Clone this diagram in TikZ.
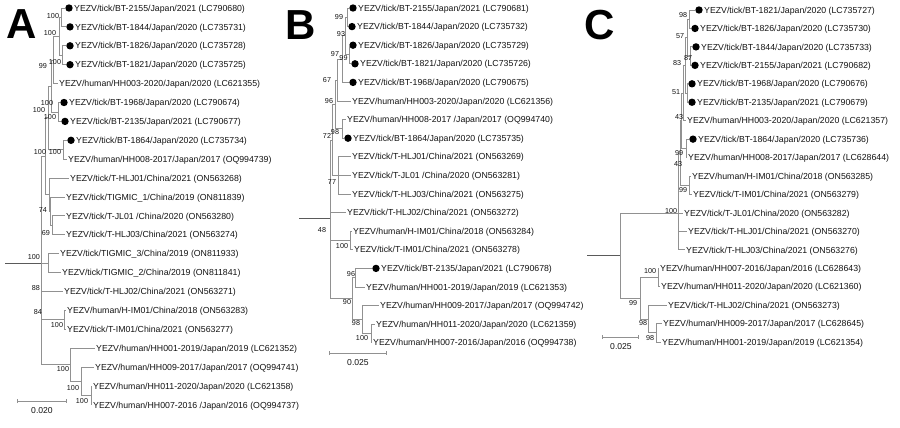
\documentclass[tikz,border=0pt]{standalone}
\usepackage{fontspec}
\setmainfont{Liberation Sans}
\usetikzlibrary{arrows.meta}
\definecolor{lnc}{RGB}{145,145,145}
\definecolor{rtc}{RGB}{90,90,90}
\definecolor{txc}{RGB}{20,20,20}
\newcommand\tleaf[4]{\node[lab] (#1) at ({#2-1.5},#3) {#4};}
\newcommand\dleaf[4]{\node[dotn] (#1d) at (#2,#3) {}; \node[lab] (#1) at ({#2+3.5},#3) {#4};}
\newcommand\bsv[4]{\node[bsl] (#1) at (#2,#3) {#4};}
\begin{document}
\begin{tikzpicture}[x=1pt,y=-1pt,
  br/.style={draw=lnc, line width=0.85pt},
  rootln/.style={draw=rtc, line width=0.9pt},
  lab/.style={anchor=west, inner xsep=1.5pt, inner ysep=0pt, text height=6.3pt, text depth=0pt, font=\fontsize{8.75}{10}\selectfont, text=txc},
  dotn/.style={circle, fill=black, inner sep=0pt, minimum size=7.4pt},
  bsl/.style={inner sep=0pt, font=\fontsize{7.2}{8}\selectfont, text=txc},
  sbar/.style={draw=lnc, line width=0.85pt, {Bar[width=4pt]}-{Bar[width=4pt]}},
  sblab/.style={inner sep=0pt, font=\fontsize{8.6}{9}\selectfont, text=txc},
  panel/.style={inner sep=0pt, font=\fontsize{42}{42}\selectfont\bfseries, text=black}]
\useasboundingbox (0,0) rectangle (900,428);
\fill[white] (0,0) rectangle (900,428);

% ---------------- Panel letters
\node[panel] (PA) at (22,24) {A};
\node[panel] (PB) at (301,25) {B};
\node[panel] (PC) at (600,25) {C};

% ================= Panel A =================
\dleaf{a1}{69}{8.0}{YEZV/tick/BT-2155/Japan/2021 (LC790680)}
\dleaf{a2}{70}{26.9}{YEZV/tick/BT-1844/Japan/2020 (LC735731)}
\dleaf{a3}{70}{45.8}{YEZV/tick/BT-1826/Japan/2020 (LC735728)}
\dleaf{a4}{70}{64.7}{YEZV/tick/BT-1821/Japan/2020 (LC735725)}
\tleaf{a5}{59}{83.6}{YEZV/human/HH003-2020/Japan/2020 (LC621355)}
\dleaf{a6}{64}{102.5}{YEZV/tick/BT-1968/Japan/2020 (LC790674)}
\dleaf{a7}{65}{121.4}{YEZV/tick/BT-2135/Japan/2021 (LC790677)}
\dleaf{a8}{71}{140.3}{YEZV/tick/BT-1864/Japan/2020 (LC735734)}
\tleaf{a9}{68}{159.2}{YEZV/human/HH008-2017/Japan/2017 (OQ994739)}
\tleaf{a10}{70}{178.1}{YEZV/tick/T-HLJ01/China/2021 (ON563268)}
\tleaf{a11}{66}{197.0}{YEZV/tick/TIGMIC\_1/China/2019 (ON811839)}
\tleaf{a12}{66}{215.9}{YEZV/tick/T-JL01 /China/2020 (ON563280)}
\tleaf{a13}{66}{234.8}{YEZV/tick/T-HLJ03/China/2021 (ON563274)}
\tleaf{a14}{60}{253.7}{YEZV/tick/TIGMIC\_3/China/2019 (ON811933)}
\tleaf{a15}{62}{272.6}{YEZV/tick/TIGMIC\_2/China/2019 (ON811841)}
\tleaf{a16}{64}{291.5}{YEZV/tick/T-HLJ02/China/2021 (ON563271)}
\tleaf{a17}{67}{310.4}{YEZV/human/H-IM01/China/2018 (ON563283)}
\tleaf{a18}{67}{329.3}{YEZV/tick/T-IM01/China/2021 (ON563277)}
\tleaf{a19}{96}{348.2}{YEZV/human/HH001-2019/Japan/2019 (LC621352)}
\tleaf{a20}{95}{367.1}{YEZV/human/HH009-2017/Japan/2017 (OQ994741)}
\tleaf{a21}{93}{386.0}{YEZV/human/HH011-2020/Japan/2020 (LC621358)}
\tleaf{a22}{93}{404.9}{YEZV/human/HH007-2016 /Japan/2016 (OQ994737)}

\coordinate (AN1) at (61,17.45);
\coordinate (AN2) at (62,55.25);
\coordinate (AN3) at (59,36.35);
\coordinate (AN4) at (53,59.98);
\coordinate (AN5) at (58,111.95);
\coordinate (AN6) at (51,85.96);
\coordinate (AN89) at (63,149.75);
\coordinate (ANJ) at (48,117.86);
\coordinate (ANC1) at (52,225.35);
\coordinate (ANC2) at (50.5,211.2);
\coordinate (ANC3) at (49.5,194.6);
\coordinate (ANU) at (45,156.2);
\coordinate (ANT) at (48,263.15);
\coordinate (ANIM) at (64,319.85);
\coordinate (ANH3) at (91,395.45);
\coordinate (ANH2) at (81,381.3);
\coordinate (ANH) at (70,364.75);
\coordinate (AR) at (41,263.15);
\coordinate (AR0) at (5,263.15);

\draw[br] (AN1) |- (a1d.west);  \draw[br] (AN1) |- (a2d.west);
\draw[br] (AN2) |- (a3d.west);  \draw[br] (AN2) |- (a4d.west);
\draw[br] (AN3) |- (AN1);       \draw[br] (AN3) |- (AN2);
\draw[br] (AN4) |- (AN3);       \draw[br] (AN4) |- (a5.west);
\draw[br] (AN5) |- (a6d.west);  \draw[br] (AN5) |- (a7d.west);
\draw[br] (AN6) |- (AN4);       \draw[br] (AN6) |- (AN5);
\draw[br] (AN89) |- (a8d.west); \draw[br] (AN89) |- (a9.west);
\draw[br] (ANJ) |- (AN6);       \draw[br] (ANJ) |- (AN89);
\draw[br] (ANC1) |- (a12.west); \draw[br] (ANC1) |- (a13.west);
\draw[br] (ANC2) |- (a11.west); \draw[br] (ANC2) |- (ANC1);
\draw[br] (ANC3) |- (a10.west); \draw[br] (ANC3) |- (ANC2);
\draw[br] (ANU) |- (ANJ);       \draw[br] (ANU) |- (ANC3);
\draw[br] (ANT) |- (a14.west);  \draw[br] (ANT) |- (a15.west);
\draw[br] (ANIM) |- (a17.west); \draw[br] (ANIM) |- (a18.west);
\draw[br] (ANH3) |- (a21.west); \draw[br] (ANH3) |- (a22.west);
\draw[br] (ANH2) |- (a20.west); \draw[br] (ANH2) |- (ANH3);
\draw[br] (ANH) |- (a19.west);  \draw[br] (ANH) |- (ANH2);
\draw[br] (AR) |- (ANU);  \draw[br] (AR) |- (ANT); \draw[br] (AR) |- (a16.west);
\draw[br] (AR) |- (ANIM); \draw[br] (AR) |- (ANH);
\draw[rootln] (AR0) -- (AR);

\bsv{ab1}{53}{16}{100}
\bsv{ab2}{50}{33}{100}
\bsv{ab3}{55}{62}{100}
\bsv{ab4}{43}{66}{99}
\bsv{ab5}{47}{103}{100}
\bsv{ab6}{39}{110}{100}
\bsv{ab7}{50}{117}{100}
\bsv{ab8}{40}{152}{100}
\bsv{ab9}{55}{152}{100}
\bsv{ab10}{43}{210}{74}
\bsv{ab11}{46}{233}{69}
\bsv{ab12}{34}{257}{100}
\bsv{ab13}{36}{288}{88}
\bsv{ab14}{38}{312}{84}
\bsv{ab15}{57}{325}{100}
\bsv{ab16}{63}{369}{100}
\bsv{ab17}{73}{388}{100}
\bsv{ab18}{82}{401}{100}

\coordinate (sA1) at (17,401);
\coordinate (sA2) at (67,401);
\draw[sbar] (sA1) -- (sA2);
\node[sblab] (sAl) at (42,411) {0.020};

% ================= Panel B =================
\dleaf{b1}{353}{8.0}{YEZV/tick/BT-2155/Japan/2021 (LC790681)}
\dleaf{b2}{352}{26.6}{YEZV/tick/BT-1844/Japan/2020 (LC735732)}
\dleaf{b3}{353}{45.2}{YEZV/tick/BT-1826/Japan/2020 (LC735729)}
\dleaf{b4}{355}{63.8}{YEZV/tick/BT-1821/Japan/2020 (LC735726)}
\dleaf{b5}{353}{82.4}{YEZV/tick/BT-1968/Japan/2020 (LC790675)}
\tleaf{b6}{352}{101.0}{YEZV/human/HH003-2020/Japan/2020 (LC621356)}
\tleaf{b7}{347}{119.6}{YEZV/human/HH008-2017 /Japan/2017 (OQ994740)}
\dleaf{b8}{348}{138.2}{YEZV/tick/BT-1864/Japan/2020 (LC735735)}
\tleaf{b9}{352}{156.8}{YEZV/tick/T-HLJ01/China/2021 (ON563269)}
\tleaf{b10}{352}{175.4}{YEZV/tick/T-JL01 /China/2020 (ON563281)}
\tleaf{b11}{352}{194.0}{YEZV/tick/T-HLJ03/China/2021 (ON563275)}
\tleaf{b12}{347}{212.6}{YEZV/tick/T-HLJ02/China/2021 (ON563272)}
\tleaf{b13}{353}{231.2}{YEZV/human/H-IM01/China/2018 (ON563284)}
\tleaf{b14}{354}{249.8}{YEZV/tick/T-IM01/China/2021 (ON563278)}
\dleaf{b15}{376}{268.4}{YEZV/tick/BT-2135/Japan/2021 (LC790678)}
\tleaf{b16}{366}{287.0}{YEZV/human/HH001-2019/Japan/2019 (LC621353)}
\tleaf{b17}{380}{305.6}{YEZV/human/HH009-2017/Japan/2017 (OQ994742)}
\tleaf{b18}{376}{324.2}{YEZV/human/HH011-2020/Japan/2020 (LC621359)}
\tleaf{b19}{373}{342.8}{YEZV/human/HH007-2016/Japan/2016 (OQ994738)}

\coordinate (BN12) at (347,17.3);
\coordinate (BN34) at (349.5,54.5);
\coordinate (BN1234) at (345,35.9);
\coordinate (BN15) at (342,59.15);
\coordinate (BN16) at (337,80.1);
\coordinate (BN78) at (342,128.9);
\coordinate (BNJ) at (335,104.5);
\coordinate (BNC) at (338,175.4);
\coordinate (BNU) at (332,140);
\coordinate (BN1314) at (350,240.5);
\coordinate (BN96) at (355,277.7);
\coordinate (BNH2) at (371,333.5);
\coordinate (BNH) at (362,319.55);
\coordinate (BNL) at (352,298.6);
\coordinate (BR) at (330,218);
\coordinate (BR0) at (299,218);

\draw[br] (BN12) |- (b1d.west);   \draw[br] (BN12) |- (b2d.west);
\draw[br] (BN34) |- (b3d.west);   \draw[br] (BN34) |- (b4d.west);
\draw[br] (BN1234) |- (BN12);     \draw[br] (BN1234) |- (BN34);
\draw[br] (BN15) |- (BN1234);     \draw[br] (BN15) |- (b5d.west);
\draw[br] (BN16) |- (BN15);       \draw[br] (BN16) |- (b6.west);
\draw[br] (BN78) |- (b7.west);    \draw[br] (BN78) |- (b8d.west);
\draw[br] (BNJ) |- (BN16);        \draw[br] (BNJ) |- (BN78);
\draw[br] (BNC) |- (b9.west); \draw[br] (BNC) |- (b10.west); \draw[br] (BNC) |- (b11.west);
\draw[br] (BNU) |- (BNJ);         \draw[br] (BNU) |- (BNC);
\draw[br] (BN1314) |- (b13.west); \draw[br] (BN1314) |- (b14.west);
\draw[br] (BN96) |- (b15d.west);  \draw[br] (BN96) |- (b16.west);
\draw[br] (BNH2) |- (b18.west);   \draw[br] (BNH2) |- (b19.west);
\draw[br] (BNH) |- (b17.west);    \draw[br] (BNH) |- (BNH2);
\draw[br] (BNL) |- (BN96);        \draw[br] (BNL) |- (BNH);
\draw[br] (BR) |- (BNU); \draw[br] (BR) |- (b12.west); \draw[br] (BR) |- (BN1314); \draw[br] (BR) |- (BNL);
\draw[rootln] (BR0) -- (BR);

\bsv{bb1}{339}{17}{99}
\bsv{bb2}{341}{34}{93}
\bsv{bb3}{335}{54}{97}
\bsv{bb4}{343.5}{58.5}{99}
\bsv{bb5}{327}{80}{67}
\bsv{bb6}{329}{101}{96}
\bsv{bb7}{335}{132}{98}
\bsv{bb8}{327}{136}{72}
\bsv{bb9}{332}{182}{77}
\bsv{bb10}{322}{230}{48}
\bsv{bb11}{342}{246}{100}
\bsv{bb12}{351}{274}{96}
\bsv{bb13}{347}{302}{90}
\bsv{bb14}{356}{323}{98}
\bsv{bb15}{362}{338}{100}

\coordinate (sB1) at (329,353);
\coordinate (sB2) at (387,353);
\draw[sbar] (sB1) -- (sB2);
\node[sblab] (sBl) at (358,363) {0.025};

% ================= Panel C =================
\dleaf{c1}{699}{10.0}{YEZV/tick/BT-1821/Japan/2020 (LC735727)}
\dleaf{c2}{695}{28.45}{YEZV/tick/BT-1826/Japan/2020 (LC735730)}
\dleaf{c3}{696}{46.9}{YEZV/tick/BT-1844/Japan/2020 (LC735733)}
\dleaf{c4}{695}{65.35}{YEZV/tick/BT-2155/Japan/2021 (LC790682)}
\dleaf{c5}{692}{83.8}{YEZV/tick/BT-1968/Japan/2020 (LC790676)}
\dleaf{c6}{692}{102.25}{YEZV/tick/BT-2135/Japan/2021 (LC790679)}
\tleaf{c7}{687}{120.7}{YEZV/human/HH003-2020/Japan/2020 (LC621357)}
\dleaf{c8}{693}{139.15}{YEZV/tick/BT-1864/Japan/2020 (LC735736)}
\tleaf{c9}{688}{157.6}{YEZV/human/HH008-2017/Japan/2017 (LC628644)}
\tleaf{c10}{692}{176.05}{YEZV/human/H-IM01/China/2018 (ON563285)}
\tleaf{c11}{693}{194.5}{YEZV/tick/T-IM01/China/2021 (ON563279)}
\tleaf{c12}{684}{212.95}{YEZV/tick/T-JL01/China/2020 (ON563282)}
\tleaf{c13}{688}{231.4}{YEZV/tick/T-HLJ01/China/2021 (ON563270)}
\tleaf{c14}{686}{249.85}{YEZV/tick/T-HLJ03/China/2021 (ON563276)}
\tleaf{c15}{660}{268.3}{YEZV/human/HH007-2016/Japan/2016 (LC628643)}
\tleaf{c16}{661}{286.75}{YEZV/human/HH011-2020/Japan/2020 (LC621360)}
\tleaf{c17}{668}{305.2}{YEZV/tick/T-HLJ02/China/2021 (ON563273)}
\tleaf{c18}{663}{323.65}{YEZV/human/HH009-2017/Japan/2017 (LC628645)}
\tleaf{c19}{662}{342.1}{YEZV/human/HH001-2019/Japan/2019 (LC621354)}

\coordinate (CN12) at (689,19.2);
\coordinate (CN34) at (690,56.1);
\coordinate (CN1234) at (687,37.65);
\coordinate (CN56) at (687,93.0);
\coordinate (CN16) at (685,65.3);
\coordinate (CN17) at (683,93.0);
\coordinate (CN89) at (686,148.4);
\coordinate (CNJ) at (681.5,120.7);
\coordinate (CN1011) at (689,185.3);
\coordinate (CNM) at (680,153);
\coordinate (CNB) at (678.5,213);
\coordinate (CN1516) at (658,277.5);
\coordinate (CN1819) at (656,332.9);
\coordinate (CNLo) at (648,319.05);
\coordinate (CN99) at (640,298.3);
\coordinate (CR) at (620,255.65);
\coordinate (CR0) at (587,255.65);

\draw[br] (CN12) |- (c1d.west);   \draw[br] (CN12) |- (c2d.west);
\draw[br] (CN34) |- (c3d.west);   \draw[br] (CN34) |- (c4d.west);
\draw[br] (CN1234) |- (CN12);     \draw[br] (CN1234) |- (CN34);
\draw[br] (CN56) |- (c5d.west);   \draw[br] (CN56) |- (c6d.west);
\draw[br] (CN16) |- (CN1234);     \draw[br] (CN16) |- (CN56);
\draw[br] (CN17) |- (CN16);       \draw[br] (CN17) |- (c7.west);
\draw[br] (CN89) |- (c8d.west);   \draw[br] (CN89) |- (c9.west);
\draw[br] (CNJ) |- (CN17);        \draw[br] (CNJ) |- (CN89);
\draw[br] (CN1011) |- (c10.west); \draw[br] (CN1011) |- (c11.west);
\draw[br] (CNM) |- (CNJ);         \draw[br] (CNM) |- (CN1011);
\draw[br] (CNB) |- (CNM); \draw[br] (CNB) |- (c12.west); \draw[br] (CNB) |- (c13.west); \draw[br] (CNB) |- (c14.west);
\draw[br] (CN1516) |- (c15.west); \draw[br] (CN1516) |- (c16.west);
\draw[br] (CN1819) |- (c18.west); \draw[br] (CN1819) |- (c19.west);
\draw[br] (CNLo) |- (c17.west);   \draw[br] (CNLo) |- (CN1819);
\draw[br] (CN99) |- (CN1516);     \draw[br] (CN99) |- (CNLo);
\draw[br] (CR) |- (CNB);          \draw[br] (CR) |- (CN99);
\draw[rootln] (CR0) -- (CR);

\bsv{cb1}{683}{15}{98}
\bsv{cb2}{680}{36}{57}
\bsv{cb3}{688}{58}{87}
\bsv{cb4}{677}{63}{83}
\bsv{cb5}{676}{92}{51}
\bsv{cb6}{679}{117}{43}
\bsv{cb7}{679}{153}{99}
\bsv{cb8}{678}{164}{43}
\bsv{cb9}{683}{190}{99}
\bsv{cb10}{671}{211}{100}
\bsv{cb11}{650}{271}{100}
\bsv{cb12}{633}{303}{99}
\bsv{cb13}{643}{323}{98}
\bsv{cb14}{650}{338}{98}

\coordinate (sC1) at (602,337);
\coordinate (sC2) at (639,337);
\draw[sbar] (sC1) -- (sC2);
\node[sblab] (sCl) at (621,347) {0.025};
\end{tikzpicture}
\end{document}
